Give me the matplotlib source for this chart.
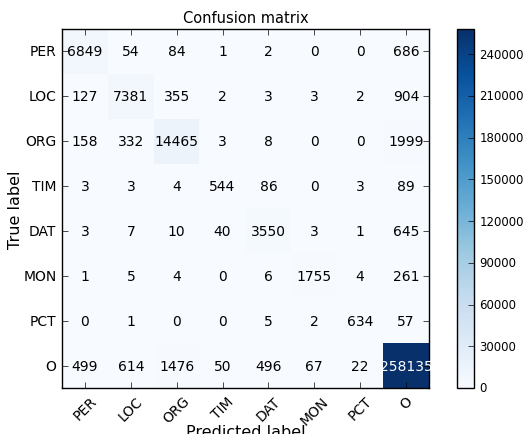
import numpy as np
import matplotlib
matplotlib.use('Agg')
import matplotlib.pyplot as plt

classes = ['PER', 'LOC', 'ORG', 'TIM', 'DAT', 'MON', 'PCT', 'O']
cm = np.array([
    [6849, 54, 84, 1, 2, 0, 0, 686],
    [127, 7381, 355, 2, 3, 3, 2, 904],
    [158, 332, 14465, 3, 8, 0, 0, 1999],
    [3, 3, 4, 544, 86, 0, 3, 89],
    [3, 7, 10, 40, 3550, 3, 1, 645],
    [1, 5, 4, 0, 6, 1755, 4, 261],
    [0, 1, 0, 0, 5, 2, 634, 57],
    [499, 614, 1476, 50, 496, 67, 22, 258135],
])
cbar_ticks = np.arange(0, 240001, 30000)

plt.style.use('classic')
plt.rcParams['font.family'] = 'DejaVu Sans'

fig = plt.figure(figsize=(5.26, 4.35), dpi=100)
fig.patch.set_facecolor('white')
W, H = 526, 435
ax = fig.add_axes([62 / W, 1 - 389 / H, 367 / W, 359 / H])
cax = fig.add_axes([457 / W, 1 - 389 / H, 17 / W, 359 / H])

im = ax.imshow(cm, interpolation='nearest', cmap=plt.cm.Blues, aspect='auto')
ax.set_title('Confusion matrix', fontsize=10.5, pad=5)
cb = fig.colorbar(im, cax=cax, ticks=cbar_ticks)
cb.ax.tick_params(labelsize=8.5, pad=4)

ticks = np.arange(len(classes))
ax.set_xticks(ticks)
ax.set_xticklabels(classes, rotation=45, fontsize=10)
ax.set_yticks(ticks)
ax.set_yticklabels(classes, fontsize=10)

thresh = cm.max() / 2.
for i in range(cm.shape[0]):
    for j in range(cm.shape[1]):
        ax.text(j, i, cm[i, j], ha='center', va='center', fontsize=10,
                color='white' if cm[i, j] > thresh else 'black')

ax.set_ylabel('True label', fontsize=11.5, labelpad=0)
ax.set_xlabel('Predicted label', fontsize=11.5, labelpad=-2)
ax.set_xlim(-0.5, 7.5)
ax.set_ylim(7.5, -0.5)

fig.savefig('out.png', dpi=100)
